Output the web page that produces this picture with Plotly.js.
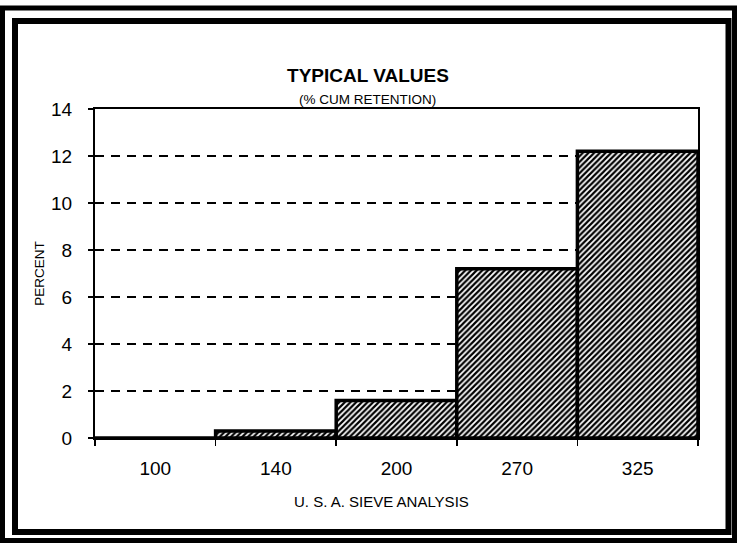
<!DOCTYPE html>
<html>
<head>
<meta charset="utf-8">
<script src="https://cdn.plot.ly/plotly-3.0.1.min.js"></script>
<style>
  html, body { margin: 0; padding: 0; background: #fff; }
  #chart { width: 737px; height: 543px; }
</style>
</head>
<body>
<div id="chart"></div>
<script>
// Data
const sieveSizes = ['100', '140', '200', '270', '325'];
const percentRetained = [0, 0.3, 1.6, 7.2, 12.2];
const yTickValues = [0, 2, 4, 6, 8, 10, 12, 14];

const W = 737, H = 543;
const margin = { l: 95, r: 39, t: 109, b: 105, pad: 0 };
const pw = W - margin.l - margin.r;
const ph = H - margin.t - margin.b;
function px(x) { return (x - margin.l) / pw; }
function py(y) { return (H - margin.b - y) / ph; }

const font = 'Liberation Sans, Arial, sans-serif';

const trace = {
  type: 'bar',
  x: sieveSizes,
  y: percentRetained,
  marker: {
    color: '#ffffff',
    line: { color: '#000000', width: 3.5 },
    pattern: { shape: '/', fgcolor: '#000000', bgcolor: '#ffffff', size: 4, solidity: 0.55 }
  },
  hoverinfo: 'x+y'
};

const layout = {
  width: W, height: H,
  margin: margin,
  paper_bgcolor: '#ffffff',
  plot_bgcolor: '#ffffff',
  showlegend: false,
  bargap: 0,
  font: { family: font, color: '#000000' },
  title: {
    text: '<b>TYPICAL VALUES</b>',
    font: { family: font, size: 19, color: '#000000' },
    x: px(368), xanchor: 'center', xref: 'paper',
    y: 1 - 75 / H, yanchor: 'middle'
  },
  annotations: [{
    text: '(% CUM RETENTION)',
    xref: 'paper', yref: 'paper',
    x: px(367), y: py(99),
    xanchor: 'center', yanchor: 'middle',
    showarrow: false,
    font: { family: font, size: 13.5, color: '#000000' }
  }, {
    text: 'U. S. A. SIEVE ANALYSIS',
    xref: 'paper', yref: 'paper',
    x: px(381), y: py(501),
    xanchor: 'center', yanchor: 'middle',
    showarrow: false,
    font: { family: font, size: 15, color: '#000000' }
  }],
  xaxis: {
    type: 'category',
    showline: true, linecolor: '#000000', linewidth: 2, mirror: true,
    ticks: 'outside', tickson: 'boundaries', ticklen: 6, tickwidth: 1.5, tickcolor: '#000000',
    ticklabelstandoff: 12,
    tickfont: { family: font, size: 19, color: '#000000' },
    showgrid: false, zeroline: false
  },
  yaxis: {
    range: [0, 14],
    tickvals: yTickValues,
    ticktext: yTickValues.map(String),
    showline: true, linecolor: '#000000', linewidth: 2, mirror: true,
    ticks: 'outside', ticklen: 5, tickwidth: 1.5, tickcolor: '#000000',
    ticklabelstandoff: 12,
    tickfont: { family: font, size: 19, color: '#000000' },
    showgrid: true, gridcolor: '#000000', gridwidth: 1.5, griddash: '9px,7px',
    zeroline: false,
    title: { text: 'PERCENT', font: { family: font, size: 13.5, color: '#000000' }, standoff: 3 }
  },
  shapes: [
    { type: 'rect', xref: 'paper', yref: 'paper', layer: 'above',
      x0: px(2.5), x1: px(734.5), y0: py(540.5), y1: py(8),
      line: { color: '#000000', width: 5 } },
    { type: 'rect', xref: 'paper', yref: 'paper', layer: 'above',
      x0: px(15), x1: px(728.5), y0: py(532), y1: py(21),
      line: { color: '#000000', width: 6 } }
  ]
};

Plotly.newPlot('chart', [trace], layout, { displayModeBar: false, staticPlot: true });
</script>
</body>
</html>
